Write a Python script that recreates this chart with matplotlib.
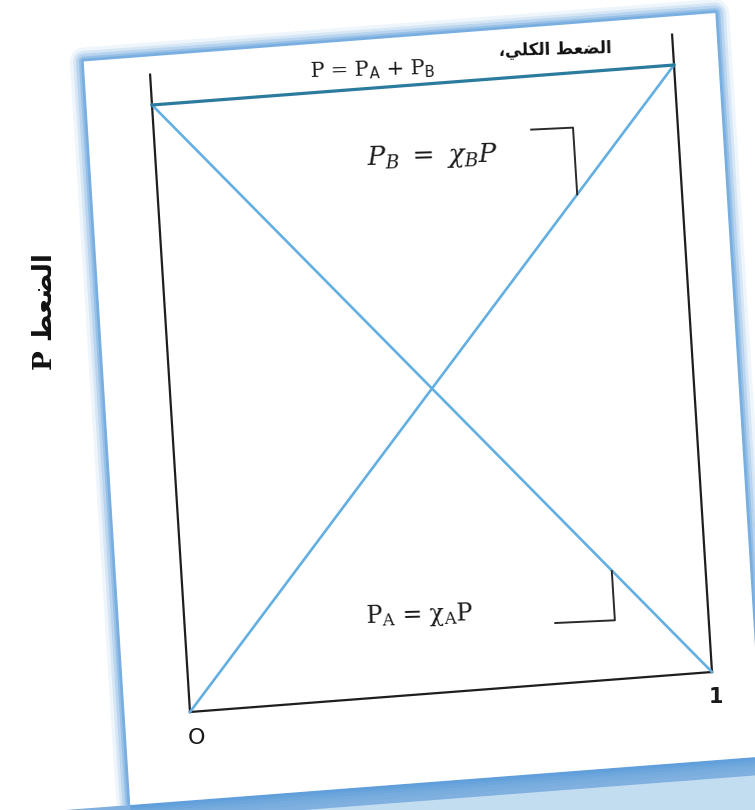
import numpy as np
import matplotlib
matplotlib.use("Agg")
import matplotlib.pyplot as plt
from matplotlib.transforms import Affine2D
from matplotlib.patches import Polygon

# mole fraction of B along the x axis
x_b = [0, 1]
p_total = [1, 1]   # P = PA + PB
p_a = [1, 0]       # PA = xA * P
p_b = [0, 1]       # PB = xB * P
x_ticks = ["O", "1"]

fig = plt.figure(figsize=(7.55, 8.1), dpi=100)
ax = fig.add_axes([0, 0, 1, 1])
ax.set_xlim(0, 755)
ax.set_ylim(810, 0)
ax.axis("off")

# the scanned figure is slightly tilted: map chart units -> pixels
tf = Affine2D(np.array([[522.0, -38.0, 190.0],
                        [-40.0, -607.0, 712.0],
                        [0.0, 0.0, 1.0]])) + ax.transData

# page panel with blue glow
corners = [(-0.125, -0.145), (1.085, -0.145), (1.085, 1.08), (-0.125, 1.08)]
ax.add_patch(Polygon([(-0.3, -0.15), (1.3, -0.15), (1.3, -0.4), (-0.3, -0.4)],
                     closed=True, transform=tf, color="#c2dcf0", lw=0))
ax.add_patch(Polygon([(-0.3, -0.145), (1.3, -0.145), (1.3, -0.175), (-0.3, -0.175)],
                     closed=True, transform=tf, color="#7fb0df", lw=0))
for lw, a in [(20, 0.10), (15, 0.16), (11, 0.24), (7, 0.35), (4, 0.5)]:
    ax.add_patch(Polygon(corners, closed=True, transform=tf, fill=False,
                         ec="#5a9ddb", lw=lw, alpha=a, joinstyle="round"))
ax.add_patch(Polygon(corners, closed=True, transform=tf, fc="white", ec="none"))

# axes frame
ax.plot([0, 0], [0, 1.05], color="#1e1e1e", lw=1.6, transform=tf)
ax.plot([1, 1], [0, 1.05], color="#1e1e1e", lw=1.6, transform=tf)
ax.plot([0, 1], [0, 0], color="#1e1e1e", lw=1.6, transform=tf)

# pressure lines
ax.plot(x_b, p_a, color="#63afe2", lw=1.9, transform=tf)
ax.plot(x_b, p_b, color="#63afe2", lw=1.9, transform=tf)
ax.plot(x_b, p_total, color="#2a7b9e", lw=2.3, transform=tf)

# brackets pointing at the lines
ax.plot([0.72, 0.80, 0.80], [0.912, 0.91, 0.80], color="#2a2a2a", lw=1.4, transform=tf)
ax.plot([0.707, 0.821, 0.821], [0.10, 0.097, 0.178], color="#2a2a2a", lw=1.4, transform=tf)

rot = 1.5
serif = ["DejaVu Serif", "DejaVu Sans"]
ax.text(0.424, 1.03, r"P = P$_\mathrm{A}$ + P$_\mathrm{B}$", transform=tf,
        fontsize=15, family=serif, rotation=rot, rotation_mode="anchor",
        ha="center", va="center", color="#1a1a1a")
# "الضغط الكلي،" written in visual order with presentation forms
ax.text(0.775, 1.04, "\u060c\ufef2\ufee0\ufedc\ufedf\ufe8d \ufec2\ufecc\ufec0\ufedf\ufe8d",
        transform=tf, fontsize=12, fontweight="bold", family=["DejaVu Sans"],
        rotation=rot, rotation_mode="anchor", ha="center", va="center", color="#111111")

plt.rcParams["mathtext.fontset"] = "dejavuserif"
ax.text(0.528, 0.88, r"$P_B\ =\ \chi_B P$", transform=tf, fontsize=19,
        rotation=rot, rotation_mode="anchor", ha="center", va="center", color="#1a1a1a")
ax.text(0.45, 0.13, "P$_\\mathrm{A}$ = \u03c7$_\\mathrm{A}$P", transform=tf, fontsize=17,
        family=serif, rotation=rot, rotation_mode="anchor", ha="center", va="center",
        color="#1a1a1a")

ax.text(0.01, -0.044, x_ticks[0], transform=tf, fontsize=16, ha="center", va="center",
        color="#1a1a1a")
ax.text(1.005, -0.042, x_ticks[1], transform=tf, fontsize=15, fontweight="bold",
        ha="center", va="center", color="#1a1a1a")

# y label outside the panel ("الضغط P")
ax.text(45, 312, "P \ufec2\ufecc\ufec0\ufedf\ufe8d", fontsize=19, fontweight="bold",
        family=serif, rotation=90, ha="center", va="center", color="#111111")

fig.savefig("out.png", dpi=100)
